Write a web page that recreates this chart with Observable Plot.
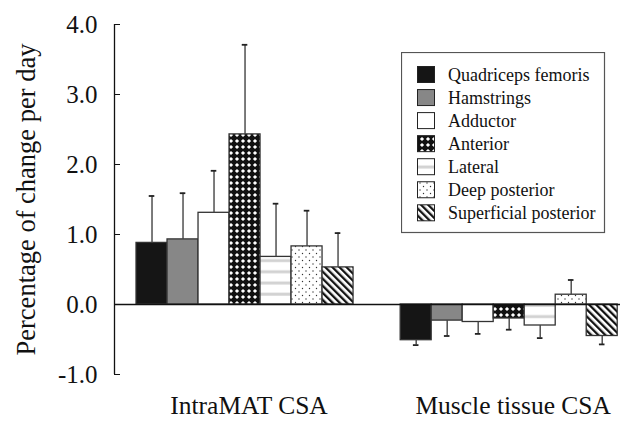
<!DOCTYPE html>
<html><head><meta charset="utf-8">
<script src="https://cdn.jsdelivr.net/npm/d3@7"></script>
<script src="https://cdn.jsdelivr.net/npm/@observablehq/plot@0.6"></script>
<style>
body{margin:0;background:#fff;}
#wrap{position:relative;width:636px;height:421px;font-family:'Liberation Serif','Times New Roman',serif;}
#wrap svg text{font-family:'Liberation Serif','Times New Roman',serif !important;}
#legend{position:absolute;left:401px;top:52px;}
</style></head><body>
<svg width="0" height="0" style="position:absolute">
<defs>
<pattern id="pat-checker" patternUnits="userSpaceOnUse" width="6" height="6">
  <rect width="6" height="6" fill="#111"/>
  <polygon points="3,0.9 5.1,3 3,5.1 0.9,3" fill="#fff"/>
</pattern>
<pattern id="pat-hstripe" patternUnits="userSpaceOnUse" width="10" height="11.2">
  <rect width="10" height="11.2" fill="#fff"/>
  <rect y="1.5" width="10" height="3" fill="#d2d2d2"/>
</pattern>
<pattern id="pat-dots" patternUnits="userSpaceOnUse" width="7" height="7">
  <rect width="7" height="7" fill="#fff"/>
  <circle cx="1.5" cy="1.5" r="0.7" fill="#333"/>
  <circle cx="5" cy="5" r="0.7" fill="#333"/>
</pattern>
<pattern id="pat-diag" patternUnits="userSpaceOnUse" width="5" height="10" patternTransform="rotate(-45)">
  <rect width="5" height="10" fill="#fff"/>
  <rect width="2.3" height="10" fill="#111"/>
</pattern>
</defs></svg>
<div id="wrap"></div>
<script>
const groups = ["IntraMAT CSA", "Muscle tissue CSA"];
const muscles = ["Quadriceps femoris", "Hamstrings", "Adductor", "Anterior", "Lateral", "Deep posterior", "Superficial posterior"];
const intramatMean = [0.88, 0.93, 1.31, 2.43, 0.68, 0.83, 0.53];
const intramatSD   = [0.67, 0.66, 0.60, 1.28, 0.76, 0.51, 0.49];
const muscleMean   = [-0.51, -0.23, -0.25, -0.20, -0.30, 0.14, -0.45];
const muscleSD     = [0.07, 0.22, 0.17, 0.16, 0.18, 0.21, 0.12];
const yTicks = [-1, 0, 1, 2, 3, 4];

const fills = ["#151515", "#878787", "#ffffff", "url(#pat-checker)", "url(#pat-hstripe)", "url(#pat-dots)", "url(#pat-diag)"];
const GROUP_STEP = 8.52;
const X_MIN = -0.71, X_MAX = GROUP_STEP + 7.09;
const SERIF = "'Liberation Serif', 'Times New Roman', serif";

const rows = [];
[[intramatMean, intramatSD], [muscleMean, muscleSD]].forEach(([m, s], g) =>
  m.forEach((v, i) => rows.push({
    group: groups[g], muscle: muscles[i], i,
    x1: g * GROUP_STEP + i, x2: g * GROUP_STEP + i + 1,
    value: v, err: v + Math.sign(v) * s[i]
  })));
const cx = d => (d.x1 + d.x2) / 2;

const chart = Plot.plot({
  width: 636, height: 421,
  marginLeft: 114, marginRight: 16, marginTop: 24, marginBottom: 47,
  x: {domain: [X_MIN, X_MAX]},
  y: {domain: [-1, 4]},
  style: {fontFamily: SERIF, color: "#111", background: "#fff", overflow: "visible"},
  marks: [
    ...muscles.map((m, i) => Plot.rectY(rows.filter(r => r.i === i), {
      x1: "x1", x2: "x2", y: "value", fill: fills[i], stroke: "#333", strokeWidth: 1.3
    })),
    Plot.ruleX(rows, {x: cx, y1: "value", y2: "err", stroke: "#444", strokeWidth: 1.4}),
    Plot.ruleY(rows, {y: "err", x1: d => cx(d) - 0.09, x2: d => cx(d) + 0.09, stroke: "#222", strokeWidth: 1.8}),
    Plot.ruleY([0], {stroke: "#111", strokeWidth: 1.5}),
    Plot.ruleX([X_MIN], {stroke: "#111", strokeWidth: 1.3}),
    Plot.axisY({ticks: yTicks, tickFormat: d => d.toFixed(1), tickSize: 6, dx: 6, tickPadding: 17, fontSize: 25, label: null}),
    Plot.axisX({ticks: groups.map((g, gi) => gi * GROUP_STEP + 3.5),
      tickFormat: d => groups[Math.round((d - 3.5) / GROUP_STEP)],
      tickSize: 0, tickPadding: 21, fontSize: 25.5, label: null, dx: 4}),
    Plot.text(["Percentage of change per day"], {frameAnchor: "left", rotate: -90, dx: -88,
      textAnchor: "middle", lineAnchor: "middle", fontSize: 26.5, text: d => d})
  ]
});
const wrap = document.getElementById("wrap");
wrap.appendChild(chart);

const L = d3.create("svg").attr("id", "legend").attr("width", 205).attr("height", 182);
L.append("rect").attr("x", 0.5).attr("y", 0.5).attr("width", 203).attr("height", 180)
  .attr("fill", "#fff").attr("stroke", "#555").attr("stroke-width", 1.2);
muscles.forEach((m, i) => {
  const cy = 22.5 + i * 23.05;
  L.append("rect").attr("x", 16.5).attr("y", cy - 8).attr("width", 17).attr("height", 16)
    .attr("fill", fills[i]).attr("stroke", "#222").attr("stroke-width", 1);
  L.append("text").attr("x", 47).attr("y", cy).attr("dominant-baseline", "central")
    .attr("font-size", 18).attr("fill", "#111").text(m);
});
wrap.appendChild(L.node());
</script>
</body></html>
